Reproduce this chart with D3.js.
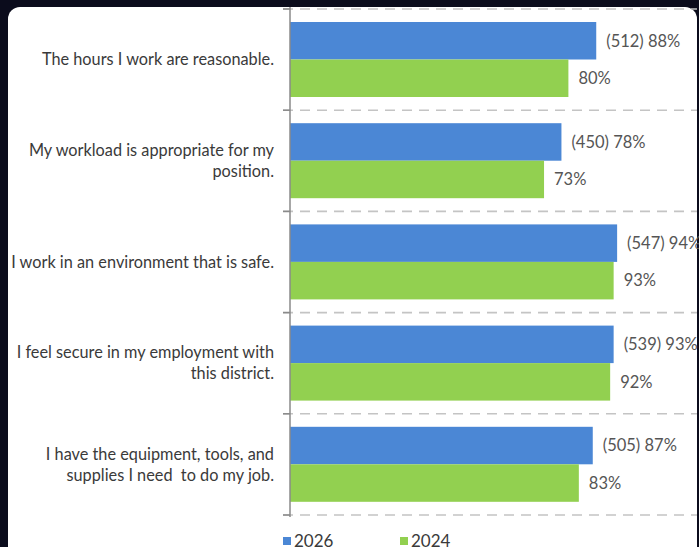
<!DOCTYPE html>
<html><head><meta charset="utf-8">
<script src="https://cdn.jsdelivr.net/npm/d3@7"></script>
<style>html,body{margin:0;padding:0;background:#0b0c1c;}svg{display:block;}</style>
</head><body>
<script>
const categories = [
  ["The hours I work are reasonable."],
  ["My workload is appropriate for my", "position."],
  ["I work in an environment that is safe."],
  ["I feel secure in my employment with", "this district."],
  ["I have the equipment, tools, and", "supplies I need  to do my job."]
];
const counts2026 = [512, 450, 547, 539, 505];
const values2026 = [88, 78, 94, 93, 87];
const values2024 = [80, 73, 93, 92, 83];
const seriesNames = ["2026", "2024"];
const colors = ["#4b87d5", "#92d050"];

const W = 699, H = 547;
const svg = d3.select("body").append("svg").attr("width", W).attr("height", H);
svg.append("rect").attr("width", W).attr("height", H).attr("fill", "#0b0c1c");
svg.append("rect").attr("x", 8).attr("y", 7).attr("width", 689).attr("height", 570).attr("rx", 12).attr("fill", "#ffffff");

const x = d3.scaleLinear().domain([0, 100]).range([290, 638]);
const y = d3.scaleBand().domain(d3.range(categories.length)).range([9, 515]);
const inner = d3.scaleBand().domain([0, 1]).range([13, 88]);

const bounds = d3.range(categories.length + 1).map(i => 9 + i * y.step());
svg.append("g").selectAll("line").data(bounds).join("line")
  .attr("x1", 283).attr("x2", 697).attr("y1", d => d).attr("y2", d => d)
  .attr("stroke", "#c4c4c4").attr("stroke-width", 1.6).attr("stroke-dasharray", "10,7");

const font = "Lato, 'Open Sans', sans-serif";

const g = svg.append("g");
categories.forEach((c, i) => {
  const vals = [values2026[i], values2024[i]];
  vals.forEach((v, s) => {
    g.append("rect").attr("x", x(0)).attr("y", y(i) + inner(s))
      .attr("width", x(v) - x(0)).attr("height", inner.bandwidth()).attr("fill", colors[s]);
    const label = s === 0 ? `(${counts2026[i]}) ${v}%` : `${v}%`;
    g.append("text").attr("x", x(v) + 10).attr("y", y(i) + inner(s) + inner.bandwidth() / 2)
      .attr("dy", "0.35em").attr("font-family", font).attr("font-size", 16.5).attr("fill", "#555555")
      .text(label);
  });
});

svg.append("line").attr("x1", x(0)).attr("x2", x(0)).attr("y1", 7).attr("y2", 517).attr("stroke", "#8a8a8a").attr("stroke-width", 1.5);
svg.append("g").selectAll("line.tick").data(bounds).join("line")
  .attr("x1", 283).attr("x2", x(0)).attr("y1", d => d).attr("y2", d => d)
  .attr("stroke", "#8a8a8a").attr("stroke-width", 1.5);

categories.forEach((lines, i) => {
  const cy = y(i) + y.bandwidth() / 2;
  const lh = 21;
  const t = svg.append("text").attr("text-anchor", "end").attr("font-family", font)
    .attr("font-size", 16.3).attr("fill", "#3a3a3a").style("white-space", "pre");
  lines.forEach((ln, k) => {
    t.append("tspan").attr("x", 274).attr("y", cy + (k - (lines.length - 1) / 2) * lh).attr("dy", "0.35em").text(ln);
  });
});

const lx = [283, 400];
seriesNames.forEach((n, s) => {
  svg.append("rect").attr("x", lx[s]).attr("y", 537).attr("width", 8).attr("height", 8).attr("fill", colors[s]);
  svg.append("text").attr("x", lx[s] + 11).attr("y", 547).attr("font-family", font)
    .attr("font-size", 17).attr("fill", "#3a3a3a").text(n);
});
</script>
</body></html>
